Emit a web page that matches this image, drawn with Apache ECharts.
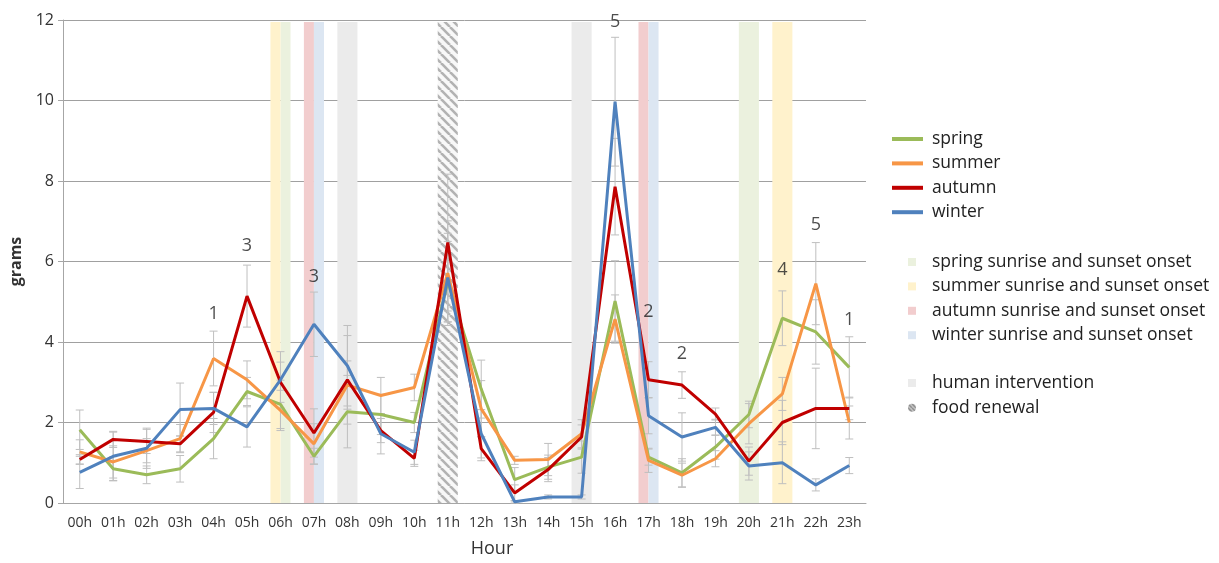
<!DOCTYPE html>
<html>
<head>
<meta charset="utf-8">
<script src="https://cdn.jsdelivr.net/npm/echarts@6/dist/echarts.min.js"></script>
<style>html,body{margin:0;padding:0;background:#fff}#c{width:1219px;height:563px}</style>
</head>
<body>
<div id="c"></div>
<script>
const hours = ['00h','01h','02h','03h','04h','05h','06h','07h','08h','09h','10h','11h','12h','13h','14h','15h','16h','17h','18h','19h','20h','21h','22h','23h'];
const yTicks = [0,2,4,6,8,10,12];

const spring = [1.82,0.85,0.70,0.85,1.60,2.77,2.45,1.16,2.27,2.20,2.00,5.50,2.83,0.58,0.89,1.14,5.02,1.14,0.75,1.39,2.20,4.59,4.25,3.37];
const summer = [1.27,1.02,1.30,1.60,3.59,3.06,2.30,1.47,2.93,2.67,2.87,5.71,2.34,1.06,1.08,1.72,4.57,1.06,0.69,1.10,1.97,2.71,5.45,2.00];
const autumn = [1.08,1.58,1.53,1.47,2.25,5.14,3.00,1.74,3.06,1.80,1.11,6.47,1.35,0.25,0.83,1.64,7.86,3.06,2.93,2.21,1.04,2.00,2.35,2.35];
const winter = [0.76,1.16,1.36,2.32,2.35,1.89,3.06,4.44,3.41,1.72,1.26,5.60,1.72,0.03,0.15,0.15,9.97,2.17,1.64,1.88,0.92,1.00,0.45,0.93];

const springErr = [0.49,0.30,0.22,0.33,0.50,0.35,0.60,0.20,0.90,0.50,0.25,1.00,0.72,0.30,0.30,0.40,1.00,0.20,0.35,0.30,0.33,0.68,0.80,0.76];
const summerErr = [0.30,0.40,0.30,0.35,0.68,0.47,0.50,0.50,0.60,0.45,0.33,1.30,0.70,0.10,0.40,0.35,0.60,0.30,0.30,0.20,0.50,0.41,1.02,0.41];
const autumnErr = [0.12,0.20,0.30,0.20,0.50,0.77,0.50,0.60,1.10,0.30,0.20,1.70,0.30,0.20,0.30,0.30,1.20,0.45,0.33,0.15,0.35,0.55,1.00,0.28];
const winterErr = [0.40,0.60,0.50,0.66,0.40,0.50,0.70,0.80,1.00,0.50,0.30,1.10,0.60,0.03,0.05,0.05,1.60,0.45,0.60,0.20,0.35,0.52,0.15,0.20];

const labelHours = [4,5,7,16,17,18,21,22,23];
const labelTexts = ['1','3','3','5','2','2','4','5','1'];
const labelY = [4.69,6.40,5.61,11.95,4.74,3.70,5.80,6.90,4.56];

// sunrise/sunset onset hours per season, human intervention, food renewal
const springOnset = [6,20];
const summerOnset = [6,21];
const autumnOnset = [7,17];
const winterOnset = [7,17];
const humanHours = [8,15];
const foodHours = [11];

const C = {spring:'#9BBB59', summer:'#F79646', autumn:'#C00000', winter:'#4F81BD'};
const BAND = {spring:'#EBF1DE', summer:'#FFF2CC', autumn:'#F2CDCE', winter:'#DCE6F2', human:'#EBEBEB'};

// hatch pattern
const pc = document.createElement('canvas');
pc.width = 9; pc.height = 9;
const g = pc.getContext('2d');
g.fillStyle = '#f8f8f8'; g.fillRect(0,0,9,9);
g.strokeStyle = '#b2b2b2'; g.lineWidth = 2.6;
for (const k of [-9,0,9]) { g.beginPath(); g.moveTo(k,0); g.lineTo(k+9,9); g.stroke(); }
const hatch = {image: pc, repeat: 'repeat'};

// legend icon pattern for food renewal
const lc = document.createElement('canvas');
lc.width = 4; lc.height = 4;
const lg = lc.getContext('2d');
lg.fillStyle = '#c8c8c8'; lg.fillRect(0,0,4,4);
lg.strokeStyle = '#8a8a8a'; lg.lineWidth = 1.4;
for (const k of [-4,0,4]) { lg.beginPath(); lg.moveTo(k,0); lg.lineTo(k+4,4); lg.stroke(); }

const BW = 0.6;
const seasonOnsets = {summer: summerOnset, spring: springOnset, autumn: autumnOnset, winter: winterOnset};
const bandRects = {spring:[], summer:[], autumn:[], winter:[]};
for (let h = 0; h < 24; h++) {
  const here = Object.keys(seasonOnsets).filter(s => seasonOnsets[s].includes(h));
  const n = here.length;
  here.forEach((s, i) => {
    const x0 = h + 0.5 - BW/2 + i * BW / n;
    bandRects[s].push([x0, x0 + BW / n]);
  });
}
const humanRects = humanHours.map(h => [h + 0.5 - BW/2, h + 0.5 + BW/2]);
const foodRects = foodHours.map(h => [h + 0.5 - BW/2, h + 0.5 + BW/2]);

function bandSeries(name, rects, fill, legendFill) {
  return {
    name, type: 'custom', xAxisIndex: 1, yAxisIndex: 0, z: 0, silent: true,
    itemStyle: {color: legendFill || fill},
    data: rects,
    renderItem: (params, api) => {
      const p0 = api.coord([api.value(0), 11.95]);
      const p1 = api.coord([api.value(1), 0]);
      return {type: 'rect', shape: {x: p0[0], y: p0[1], width: p1[0]-p0[0], height: p1[1]-p0[1]}, style: {fill: fill}};
    }
  };
}

function errSeries(vals, errs) {
  return {
    type: 'custom', xAxisIndex: 0, yAxisIndex: 0, z: 1, silent: true,
    data: vals.map((v, i) => [i, v - errs[i], v + errs[i]]),
    renderItem: (params, api) => {
      const lo = api.coord([api.value(0), Math.max(0, api.value(1))]);
      const hi = api.coord([api.value(0), api.value(2)]);
      const w = 4;
      const st = {stroke: '#BFBFBF', lineWidth: 1};
      return {type: 'group', children: [
        {type: 'line', shape: {x1: lo[0], y1: lo[1], x2: hi[0], y2: hi[1]}, style: st},
        {type: 'line', shape: {x1: lo[0]-w, y1: lo[1], x2: lo[0]+w, y2: lo[1]}, style: st},
        {type: 'line', shape: {x1: hi[0]-w, y1: hi[1], x2: hi[0]+w, y2: hi[1]}, style: st}
      ]};
    }
  };
}

function lineSeries(name, data, color) {
  return {name, type: 'line', data, xAxisIndex: 0, yAxisIndex: 0, z: 3, symbol: 'none',
    lineStyle: {color, width: 3}, itemStyle: {color}};
}

const font = '"Open Sans", Lato, sans-serif';
const legendText = {fontSize: 17.5, color: '#222', lineHeight: 16, fontFamily: font};
const chart = echarts.init(document.getElementById('c'));
chart.setOption({
  animation: false,
  textStyle: {fontFamily: font},
  grid: {left: 63, right: 353, top: 20, bottom: 59},
  xAxis: [
    {type: 'category', data: hours, boundaryGap: true,
     axisLine: {lineStyle: {color: '#A6A6A6'}},
     axisTick: {length: 5, lineStyle: {color: '#A6A6A6'}},
     axisLabel: {color: '#333', fontSize: 14, margin: 13, fontFamily: font},
     name: 'Hour', nameLocation: 'middle', nameGap: 37,
     nameTextStyle: {fontSize: 18, color: '#333', padding: [0,0,0,55], fontFamily: font},
     splitLine: {show: false}},
    {type: 'value', min: 0, max: 24, show: false}
  ],
  yAxis: [{type: 'value', min: 0, max: 12, interval: 2,
    axisLine: {show: true, lineStyle: {color: '#A6A6A6'}},
    axisTick: {show: true, length: 5, lineStyle: {color: '#A6A6A6'}},
    axisLabel: {color: '#333', fontSize: 16, margin: 9, fontFamily: font,
      formatter: v => yTicks.includes(v) ? String(v) : ''},
    splitLine: {lineStyle: {color: '#A0A0A0', width: 1}},
    name: 'grams', nameLocation: 'middle', nameGap: 38,
    nameTextStyle: {fontSize: 16, color: '#333', fontWeight: 'bold', fontFamily: font}}],
  legend: [
    {orient: 'vertical', left: 887, top: 125, itemWidth: 31, itemHeight: 4, itemGap: 6.4, icon: 'rect',
     textStyle: Object.assign({padding: [0,0,0,4]}, legendText),
     data: ['spring','summer','autumn','winter']},
    {orient: 'vertical', left: 903, top: 248, itemWidth: 8, itemHeight: 8, itemGap: 6.4, icon: 'rect',
     textStyle: Object.assign({padding: [0,0,0,11]}, legendText),
     data: ['spring sunrise and sunset onset','summer sunrise and sunset onset','autumn sunrise and sunset onset','winter sunrise and sunset onset']},
    {orient: 'vertical', left: 903, top: 369, itemWidth: 8, itemHeight: 8, itemGap: 6.8,
     textStyle: Object.assign({padding: [0,0,0,11]}, legendText),
     data: [{name: 'human intervention', icon: 'rect'}, {name: 'food renewal', icon: 'circle'}]}
  ],
  series: [
    bandSeries('spring sunrise and sunset onset', bandRects.spring, BAND.spring),
    bandSeries('summer sunrise and sunset onset', bandRects.summer, BAND.summer),
    bandSeries('autumn sunrise and sunset onset', bandRects.autumn, BAND.autumn),
    bandSeries('winter sunrise and sunset onset', bandRects.winter, BAND.winter),
    bandSeries('human intervention', humanRects, BAND.human),
    bandSeries('food renewal', foodRects, hatch, {image: lc, repeat: 'repeat'}),
    errSeries(spring, springErr),
    errSeries(summer, summerErr),
    errSeries(autumn, autumnErr),
    errSeries(winter, winterErr),
    lineSeries('spring', spring, C.spring),
    lineSeries('summer', summer, C.summer),
    lineSeries('autumn', autumn, C.autumn),
    lineSeries('winter', winter, C.winter),
    {type: 'scatter', xAxisIndex: 0, yAxisIndex: 0, symbolSize: 0, z: 4, silent: true,
     data: labelHours.map((h, i) => [h, labelY[i], labelTexts[i]]),
     label: {show: true, position: 'inside', fontSize: 18, color: '#222', fontFamily: font,
       formatter: p => p.data[2]}}
  ]
});
</script>
</body>
</html>
